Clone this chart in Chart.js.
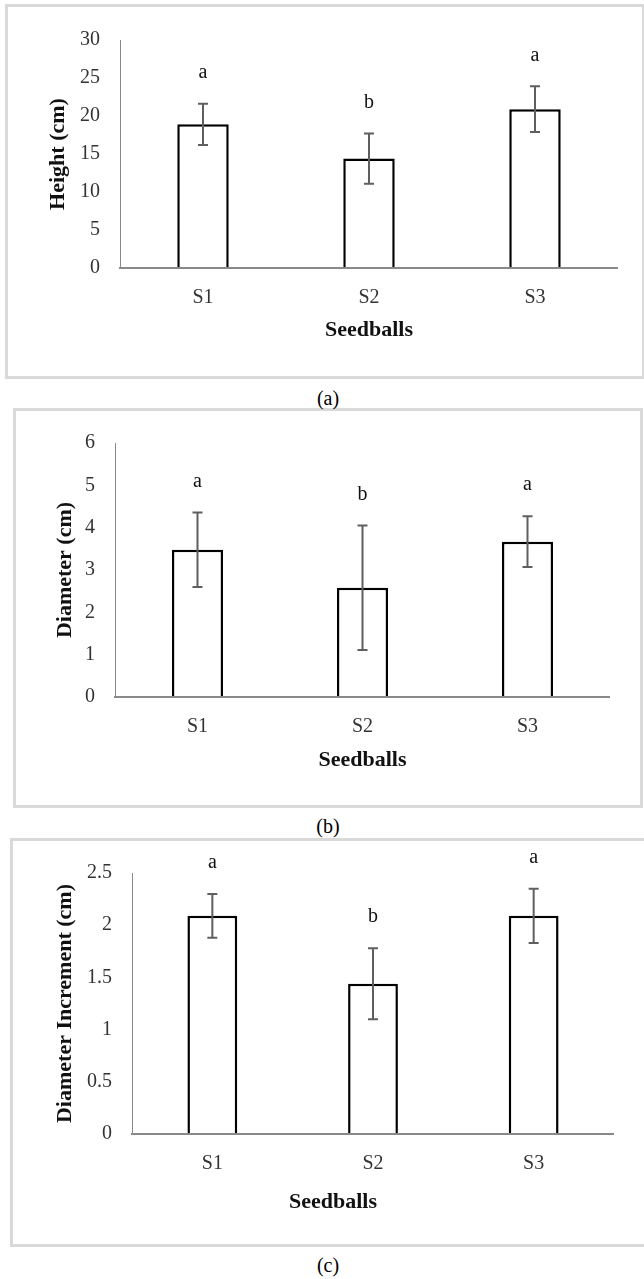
<!DOCTYPE html>
<html lang="en">
<head>
<meta charset="UTF-8">
<title>Seedball growth</title>
<script src="https://cdn.jsdelivr.net/npm/chart.js"></script>
<style>
    body {
        margin: 0;
        background: #fff;
        overflow: hidden;
        font-family: 'Liberation Serif', 'Times New Roman', serif;
    }
    .box {
        position: absolute;
        box-sizing: border-box;
        border: 3px solid #d9d9d9;
    }
    canvas {
        position: absolute;
    }
    .caption {
        position: absolute;
        left: 278px;
        width: 100px;
        text-align: center;
        font-size: 20px;
        line-height: 24px;
        color: #000;
    }
</style>
</head>
<body>
    <div class="box" style="left:5px; top:4px; width:640px; height:375px;"></div>
    <div class="box" style="left:13px; top:408px; width:630px; height:400px;"></div>
    <div class="box" style="left:10px; top:838px; width:650px; height:409px;"></div>

    <canvas id="chartA" width="610" height="340" style="left:8px; top:8px;"></canvas>
    <canvas id="chartB" width="594" height="370" style="left:16px; top:411px;"></canvas>
    <canvas id="chartC" width="562" height="375" style="left:52px; top:841px;"></canvas>

    <div class="caption" style="top:386px;">(a)</div>
    <div class="caption" style="top:814px;">(b)</div>
    <div class="caption" style="top:1253px;">(c)</div>

<script>
// categories
const seedballs = ['S1', 'S2', 'S3'];

// (a) height
const heightMean = [18.9, 14.4, 20.9];
const heightErr = [2.7, 3.3, 3.0];
const heightLetters = ['a', 'b', 'a'];

// (b) diameter
const diameterMean = [3.48, 2.58, 3.67];
const diameterErr = [0.88, 1.47, 0.6];
const diameterLetters = ['a', 'b', 'a'];

// (c) diameter increment
const incrementMean = [2.09, 1.44, 2.09];
const incrementErr = [0.21, 0.34, 0.26];
const incrementLetters = ['a', 'b', 'a'];

const serif = "'Liberation Serif', 'Times New Roman', serif";

// error bars + significance letters
function errorBarPlugin(errs, letters) {
    return {
        id: 'errorBars',
        afterDraw(chart) {
            const { ctx, scales: { x, y } } = chart;
            const mean = chart.data.datasets[0].data;
            ctx.save();
            mean.forEach((m, i) => {
                const px = x.getPixelForValue(i);
                const top = y.getPixelForValue(m + errs[i]);
                const bot = y.getPixelForValue(m - errs[i]);
                ctx.strokeStyle = '#5f5f5f';
                ctx.lineWidth = 2;
                ctx.beginPath();
                ctx.moveTo(px, top);
                ctx.lineTo(px, bot);
                ctx.moveTo(px - 5, top);
                ctx.lineTo(px + 5, top);
                ctx.moveTo(px - 5, bot);
                ctx.lineTo(px + 5, bot);
                ctx.stroke();

                ctx.fillStyle = '#111';
                ctx.font = '20px ' + serif;
                ctx.textAlign = 'center';
                ctx.textBaseline = 'middle';
                ctx.fillText(letters[i], px, top - 31);
            });
            ctx.restore();
        }
    };
}

function makeChart(id, opts) {
    const xTitle = {
        display: opts.xTitleOnAxis,
        text: 'Seedballs',
        color: '#111',
        font: { family: serif, size: 22, weight: 'bold' },
        padding: { top: 0, bottom: opts.xTitlePad }
    };
    return new Chart(document.getElementById(id), {
        type: 'bar',
        data: {
            labels: seedballs,
            datasets: [{
                data: opts.mean,
                backgroundColor: '#fff',
                borderColor: '#000',
                borderWidth: 2.5,
                barPercentage: 0.31,
                categoryPercentage: 1
            }]
        },
        options: {
            responsive: false,
            animation: false,
            layout: { padding: { top: opts.padTop, left: 0, right: 0, bottom: 0 } },
            plugins: {
                legend: { display: false },
                tooltip: { enabled: false },
                title: {
                    display: !opts.xTitleOnAxis,
                    position: 'bottom',
                    text: 'Seedballs',
                    color: '#111',
                    font: { family: serif, size: 22, weight: 'bold' },
                    padding: 0
                }
            },
            scales: {
                x: {
                    grid: { display: false, drawTicks: false },
                    border: { color: '#898989', width: 2, z: 1 },
                    ticks: { color: '#333', font: { family: serif, size: 20 }, padding: 18 },
                    title: xTitle,
                    afterFit(scale) { scale.height = opts.xHeight; }
                },
                y: {
                    min: 0,
                    max: opts.yMax,
                    grid: { display: false, drawTicks: false },
                    border: { color: '#898989', width: 1 },
                    ticks: {
                        stepSize: opts.yStep,
                        color: '#333',
                        font: { family: serif, size: 20 },
                        padding: 20,
                        callback: v => String(+v.toFixed(2))
                    },
                    title: {
                        display: true,
                        text: opts.yTitle,
                        color: '#111',
                        font: { family: serif, size: 22, weight: 'bold' },
                        padding: { top: opts.yTitlePad, bottom: 0 }
                    },
                    afterFit(scale) { scale.width = opts.yWidth; }
                }
            }
        },
        plugins: [errorBarPlugin(opts.err, opts.letters)]
    });
}

makeChart('chartA', {
    mean: heightMean, err: heightErr, letters: heightLetters,
    yMax: 30, yStep: 5, yTitle: 'Height (cm)',
    padTop: 29, yWidth: 112, xHeight: 80, xTitleOnAxis: true, xTitlePad: 4.8, yTitlePad: 36.8
});

makeChart('chartB', {
    mean: diameterMean, err: diameterErr, letters: diameterLetters,
    yMax: 6, yStep: 1, yTitle: 'Diameter (cm)',
    padTop: 30, yWidth: 99, xHeight: 84, xTitleOnAxis: true, xTitlePad: 7.8, yTitlePad: 35.8
});

makeChart('chartC', {
    mean: incrementMean, err: incrementErr, letters: incrementLetters,
    yMax: 2.5, yStep: 0.5, yTitle: 'Diameter Increment (cm)',
    padTop: 30, yWidth: 80, xHeight: 55.6, xTitleOnAxis: false, xTitlePad: 0, yTitlePad: 0
});
</script>
</body>
</html>
